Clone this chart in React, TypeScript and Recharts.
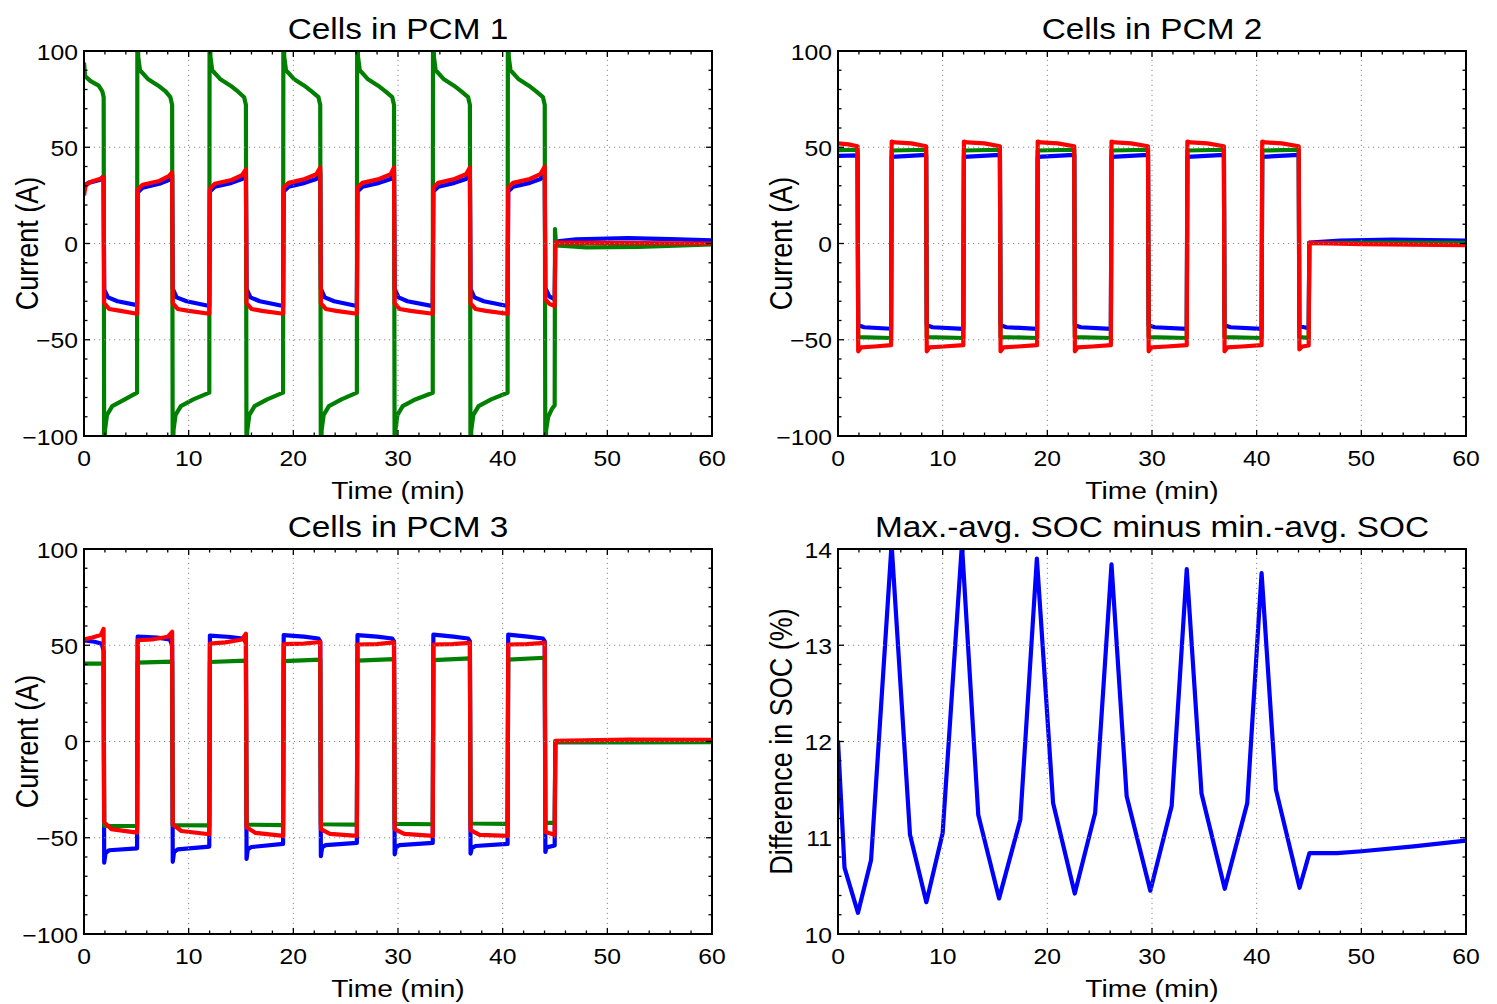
import React from 'react';
import { LineChart, Line, XAxis, YAxis } from 'recharts';

type Pt = [number, number];

// time axis (min) and tick lists
const X_TICKS = [0, 2, 4, 6, 8, 10, 12, 14, 16, 18, 20, 22, 24, 26, 28, 30, 32, 34, 36, 38, 40, 42, 44, 46, 48, 50, 52, 54, 56, 58, 60];
const CURRENT_TICKS = [-100, -90, -80, -70, -60, -50, -40, -30, -20, -10, 0, 10, 20, 30, 40, 50, 60, 70, 80, 90, 100];
const SOC_TICKS = [10, 10.2, 10.4, 10.6, 10.8, 11, 11.2, 11.4, 11.6, 11.8, 12, 12.2, 12.4, 12.6, 12.8, 13, 13.2, 13.4, 13.6, 13.8, 14];

const TITLES = ['Cells in PCM 1', 'Cells in PCM 2', 'Cells in PCM 3', 'Max.-avg. SOC minus min.-avg. SOC'];
const X_LABEL = 'Time (min)';
const Y_LABELS = ['Current (A)', 'Current (A)', 'Current (A)', 'Difference in SOC (%)'];

// PCM 1 cell currents [time, current]
const pcm1Blue: Pt[] = [
  [0, 30], [0.4, 31.5], [1.5, 33], [1.87, 35],
  [1.93, -24], [2.3, -28], [3.2, -30], [5.07, -32],
  [5.13, 26.5], [5.6, 29], [7.2, 31], [8.1, 33], [8.42, 35.5],
  [8.48, -23.5], [8.85, -28], [9.8, -30], [11.97, -32.5],
  [12.03, 27], [12.5, 29.5], [14.1, 31.5], [15.1, 33.5], [15.47, 36.5],
  [15.53, -23.5], [15.9, -28], [16.8, -30], [19.02, -32.5],
  [19.08, 27], [19.55, 29.5], [21.1, 31.5], [22.2, 33.5], [22.57, 37],
  [22.63, -23.5], [23.0, -28], [23.9, -30], [26.07, -32.5],
  [26.13, 27], [26.6, 29.5], [28.2, 31.5], [29.3, 33.5], [29.62, 37],
  [29.68, -23.5], [30.05, -28], [30.9, -30], [33.32, -32.5],
  [33.38, 27], [33.85, 29.5], [35.4, 31.5], [36.5, 33.5], [36.87, 37],
  [36.93, -23.5], [37.3, -28], [38.2, -30], [40.47, -32.5],
  [40.53, 27], [41.0, 29.5], [42.6, 31.5], [43.6, 33.5], [44.02, 37],
  [44.08, -23], [44.45, -27.5], [44.97, -29],
  [45.03, 1], [47, 2.2], [52, 2.8], [56, 2.3], [60, 1.6],
];
const pcm1Green: Pt[] = [
  [0, 94], [0.1, 87], [0.6, 84.5], [1.4, 82], [1.75, 79], [1.88, 76],
  [1.93, -130], [2.0, -97], [2.2, -89], [2.7, -84.5], [3.9, -81], [5.07, -77.5],
  [5.1, 130], [5.18, 97], [5.35, 90], [6.1, 85.5], [7.1, 82], [7.8, 79], [8.25, 76], [8.42, 72],
  [8.48, -130], [8.55, -97], [8.75, -89], [9.25, -84.5], [10.45, -81], [11.97, -77.5],
  [12.0, 130], [12.08, 97], [12.25, 90], [13.0, 85.5], [14.0, 82], [14.7, 79], [15.3, 76], [15.47, 72],
  [15.53, -130], [15.6, -97], [15.8, -89], [16.3, -84.5], [17.5, -81], [19.02, -77.5],
  [19.05, 130], [19.13, 97], [19.3, 90], [20.05, 85.5], [21.05, 82], [21.75, 79], [22.4, 76], [22.57, 72],
  [22.63, -130], [22.7, -97], [22.9, -89], [23.4, -84.5], [24.6, -81], [26.07, -77.5],
  [26.1, 130], [26.18, 97], [26.35, 90], [27.1, 85.5], [28.1, 82], [28.8, 79], [29.45, 76], [29.62, 72],
  [29.68, -130], [29.75, -97], [29.95, -89], [30.45, -84.5], [31.65, -81], [33.32, -77.5],
  [33.35, 130], [33.43, 97], [33.6, 90], [34.35, 85.5], [35.35, 82], [36.05, 79], [36.7, 76], [36.87, 72],
  [36.93, -130], [37.0, -97], [37.2, -89], [37.7, -84.5], [38.9, -81], [40.47, -77.5],
  [40.5, 130], [40.58, 97], [40.75, 90], [41.5, 85.5], [42.5, 82], [43.2, 79], [43.85, 76], [44.02, 72],
  [44.08, -130], [44.15, -97], [44.35, -90], [44.7, -86], [44.97, -84],
  [45.0, 7.5], [45.1, -1], [48, -2], [53, -1.8], [60, -0.5],
];
const pcm1Red: Pt[] = [
  [0, 25], [0.15, 30], [0.6, 32], [1.5, 33.5], [1.87, 34.5],
  [1.93, -31], [2.4, -34], [3.5, -35], [5.07, -36.5],
  [5.13, 28], [5.6, 30.5], [7.2, 32.5], [8.1, 35], [8.42, 37],
  [8.48, -31], [8.95, -34], [10, -35], [11.97, -36.5],
  [12.03, 28.5], [12.5, 31], [14.1, 33], [15.1, 35.5], [15.47, 38.5],
  [15.53, -31], [16.0, -34], [17, -35], [19.02, -36.5],
  [19.08, 29], [19.55, 31.5], [21.1, 33.5], [22.2, 36], [22.57, 39.5],
  [22.63, -31], [23.1, -34], [24.1, -35], [26.07, -36.5],
  [26.13, 29], [26.6, 31.5], [28.2, 33.5], [29.3, 36], [29.62, 39.5],
  [29.68, -31], [30.15, -34], [31.2, -35], [33.32, -36.5],
  [33.38, 29], [33.85, 31.5], [35.4, 33.5], [36.5, 36], [36.87, 39.5],
  [36.93, -31], [37.4, -34], [38.4, -35], [40.47, -36.5],
  [40.53, 29], [41.0, 31.5], [42.6, 33.5], [43.6, 36], [44.02, 40],
  [44.08, -29], [44.5, -31.5], [44.97, -32.5],
  [45.03, 0.5], [50, 0.3], [60, 0],
];

// PCM 2 cell currents
const pcm2Blue: Pt[] = [
  [0, 45.5], [1.87, 45.8],
  [1.93, -42.5], [2.5, -43.5], [5.07, -44.3],
  [5.13, 45], [8.42, 46],
  [8.48, -42.5], [9.05, -43.5], [11.97, -44.3],
  [12.03, 45], [15.47, 46],
  [15.53, -42.5], [16.1, -43.5], [19.02, -44.3],
  [19.08, 45], [22.57, 46],
  [22.63, -42.5], [23.2, -43.5], [26.07, -44.3],
  [26.13, 45], [29.62, 46],
  [29.68, -42.5], [30.25, -43.5], [33.32, -44.3],
  [33.38, 45], [36.87, 46],
  [36.93, -42.5], [37.5, -43.5], [40.47, -44.3],
  [40.53, 45], [44.02, 46],
  [44.08, -43], [44.97, -44],
  [45.03, 0.5], [48, 1.5], [53, 2], [60, 1.5],
];
const pcm2Green: Pt[] = [
  [0, 48.5], [1.87, 48.7],
  [1.93, -48.6], [5.07, -49.1],
  [5.13, 48.3], [8.42, 48.7],
  [8.48, -48.6], [11.97, -49.1],
  [12.03, 48.3], [15.47, 48.7],
  [15.53, -48.6], [19.02, -49.1],
  [19.08, 48.3], [22.57, 48.7],
  [22.63, -48.6], [26.07, -49.1],
  [26.13, 48.3], [29.62, 48.7],
  [29.68, -48.6], [33.32, -49.1],
  [33.38, 48.3], [36.87, 48.7],
  [36.93, -48.6], [40.47, -49.1],
  [40.53, 48.3], [44.02, 48.7],
  [44.08, -48.6], [44.97, -49],
  [45.03, 0.2], [52, 0.5], [60, 0.3],
];
const pcm2Red: Pt[] = [
  [0, 52], [1.0, 51.5], [1.87, 50.5],
  [1.93, -56], [2.2, -54], [3.5, -53.5], [5.07, -52.8],
  [5.13, 53], [5.45, 52.5], [7.0, 52], [8.42, 50.5],
  [8.48, -56], [8.75, -54], [10.1, -53.5], [11.97, -52.8],
  [12.03, 53], [12.35, 52.5], [14.0, 52], [15.47, 50.5],
  [15.53, -56], [15.8, -54], [17.2, -53.5], [19.02, -52.8],
  [19.08, 53], [19.4, 52.5], [21.0, 52], [22.57, 50.5],
  [22.63, -56], [22.9, -54], [24.3, -53.5], [26.07, -52.8],
  [26.13, 53], [26.45, 52.5], [28.0, 52], [29.62, 50.5],
  [29.68, -56], [29.95, -54], [31.4, -53.5], [33.32, -52.8],
  [33.38, 53], [33.7, 52.5], [35.3, 52], [36.87, 50.5],
  [36.93, -56], [37.2, -54], [38.6, -53.5], [40.47, -52.8],
  [40.53, 53], [40.85, 52.5], [42.4, 52], [44.02, 50.5],
  [44.08, -55], [44.35, -53.5], [44.97, -53],
  [45.03, 0.3], [50, -0.3], [60, -0.8],
];

// PCM 3 cell currents
const pcm3Blue: Pt[] = [
  [0, 52.5], [1.0, 51.8], [1.7, 50.8], [1.87, 47],
  [1.93, -63], [2.05, -58], [2.4, -56.5], [5.07, -55.5],
  [5.13, 54.5], [7.0, 54], [8.2, 53], [8.42, 50],
  [8.48, -62.5], [8.6, -57.5], [8.95, -56], [11.97, -54.6],
  [12.03, 55], [14, 54.3], [15.3, 53.3], [15.47, 51],
  [15.53, -61], [15.65, -56], [16.0, -54.8], [19.02, -53.2],
  [19.08, 55.3], [21, 54.5], [22.4, 53.5], [22.57, 52],
  [22.63, -59.6], [22.75, -55], [23.1, -53.8], [26.07, -52.7],
  [26.13, 55.3], [28, 54.5], [29.45, 53.5], [29.62, 52],
  [29.68, -58.6], [29.8, -55], [30.15, -53.8], [33.32, -52.7],
  [33.38, 55.5], [35.3, 54.5], [36.7, 53.5], [36.87, 52],
  [36.93, -58.2], [37.05, -55.5], [37.4, -54.3], [40.47, -53.2],
  [40.53, 55.5], [42.4, 54.5], [43.85, 53.5], [44.02, 52],
  [44.08, -57.4], [44.2, -55], [44.97, -54],
  [45.03, -0.2], [52, -0.3], [60, -0.2],
];
const pcm3Green: Pt[] = [
  [0, 40.5], [1.87, 40.5],
  [1.93, -43.8], [5.07, -43.9],
  [5.13, 41], [8.42, 41.5],
  [8.48, -43.5], [11.97, -43.6],
  [12.03, 41.3], [15.47, 42],
  [15.53, -43.2], [19.02, -43.4],
  [19.08, 41.8], [22.57, 42.5],
  [22.63, -43], [26.07, -43.2],
  [26.13, 42], [29.62, 42.8],
  [29.68, -42.8], [33.32, -43],
  [33.38, 42.3], [36.87, 43.2],
  [36.93, -42.6], [40.47, -42.8],
  [40.53, 42.5], [44.02, 43.5],
  [44.08, -42.3], [44.97, -42.3],
  [45.03, -0.3], [52, -0.4], [60, -0.3],
];
const pcm3Red: Pt[] = [
  [0, 53], [0.8, 54], [1.6, 55.3], [1.87, 58.5],
  [1.93, -42], [2.6, -45.5], [5.07, -47.3],
  [5.13, 52.6], [6.5, 53], [8.0, 54.4], [8.42, 57],
  [8.48, -43], [9.3, -46.5], [11.97, -48.2],
  [12.03, 50.8], [13.5, 51.5], [15.1, 53], [15.47, 56],
  [15.53, -44.5], [16.4, -47.5], [19.02, -49],
  [19.08, 50.6], [21, 50.8], [22.57, 51.7],
  [22.63, -45.5], [23.5, -48], [26.07, -49],
  [26.13, 50.4], [28, 50.6], [29.62, 51.5],
  [29.68, -45.5], [30.6, -48], [33.32, -49],
  [33.38, 50.4], [35.2, 50.6], [36.87, 51.2],
  [36.93, -46], [37.8, -48.5], [40.47, -49],
  [40.53, 50.4], [42.3, 50.6], [44.02, 51.2],
  [44.08, -47], [44.97, -48.5],
  [45.03, 0.3], [52, 1.0], [60, 0.9],
];

// SOC spread [time, %]
const socSpread: Pt[] = [
  [0, 12.01], [0.62, 10.69], [1.91, 10.22], [3.16, 10.77], [5.12, 14.05],
  [6.88, 11.03], [8.44, 10.33], [10.0, 11.05], [11.84, 14.05], [13.4, 11.24],
  [15.39, 10.37], [17.42, 11.19], [19.0, 13.9], [20.55, 11.36], [22.62, 10.42],
  [24.57, 11.26], [26.13, 13.84], [27.58, 11.43], [29.84, 10.45], [31.88, 11.33],
  [33.32, 13.79], [34.73, 11.46], [36.95, 10.47], [39.1, 11.36], [40.47, 13.75],
  [41.84, 11.5], [44.1, 10.48], [45.04, 10.84], [47.7, 10.84], [50.04, 10.86],
  [55, 10.91], [60, 10.97],
];

const BLUE = '#0000ff';
const GREEN = '#008000';
const RED = '#ff0000';
const FONT = '"Liberation Sans", Arial, Helvetica, sans-serif';
const SX = 1.15;

const PLOT_W = 628;
// outer margins; the 1px axes eat one pixel each
const M = { top: 60, right: 30, bottom: 79, left: 99 };

const toRows = (pts: Pt[]) => pts.map(([t, v]) => ({ t, v }));
const fmt = (v: number) => (v < 0 ? '\u2212' + Math.abs(v) : String(v));

function XTick(props: any) {
  const { x, y, payload, plotH } = props;
  const v = payload.value;
  const major = v % 10 === 0;
  const len = major ? 6 : 3.5;
  return (
    <g>
      {major && (
        <line x1={x} x2={x} y1={y} y2={y - plotH} stroke="#8a8a8a" strokeWidth={1} strokeDasharray="1.2 3.8" />
      )}
      <line x1={x} x2={x} y1={y} y2={y - len} stroke="#000" strokeWidth={1.3} />
      <line x1={x} x2={x} y1={y - plotH} y2={y - plotH + len} stroke="#000" strokeWidth={1.3} />
      {major && (
        <text transform={`translate(${x},${y + 30}) scale(${SX},1)`} textAnchor="middle" fontFamily={FONT} fontSize={21.5} fill="#000">
          {fmt(v)}
        </text>
      )}
    </g>
  );
}

function YTick(props: any) {
  const { x, y, payload, plotW, isMajor } = props;
  const v = payload.value;
  const major = isMajor(v);
  const len = major ? 6 : 3.5;
  return (
    <g>
      {major && (
        <line x1={x} x2={x + plotW} y1={y} y2={y} stroke="#8a8a8a" strokeWidth={1} strokeDasharray="1.2 3.8" />
      )}
      <line x1={x} x2={x + len} y1={y} y2={y} stroke="#000" strokeWidth={1.3} />
      <line x1={x + plotW} x2={x + plotW - len} y1={y} y2={y} stroke="#000" strokeWidth={1.3} />
      {major && (
        <text transform={`translate(${x - 6},${y + 8.5}) scale(${SX},1)`} textAnchor="end" fontFamily={FONT} fontSize={21.5} fill="#000">
          {fmt(v)}
        </text>
      )}
    </g>
  );
}

type Series = { name: string; color: string; data: Pt[] };

function Panel(props: {
  left: number;
  top: number;
  h: number;
  domain: [number, number];
  yTicks: number[];
  isMajor: (v: number) => boolean;
  series: Series[];
}) {
  const { left, top, h, domain, yTicks, isMajor, series } = props;
  return (
    <div style={{ position: 'absolute', left: left - M.left - 1, top: top - M.top }}>
      <LineChart width={PLOT_W + M.left + 1 + M.right} height={h + M.top + M.bottom + 1} margin={M}>
        <XAxis
          type="number"
          dataKey="t"
          domain={[0, 60]}
          ticks={X_TICKS}
          interval={0}
          height={1}
          axisLine={false}
          tickLine={false}
          tickSize={0}
          tickMargin={0}
          allowDataOverflow
          tick={(p: any) => <XTick {...p} plotH={h} />}
        />
        <YAxis
          type="number"
          domain={domain}
          ticks={yTicks}
          interval={0}
          width={1}
          axisLine={false}
          tickLine={false}
          tickSize={0}
          tickMargin={0}
          allowDataOverflow
          tick={(p: any) => <YTick {...p} plotW={PLOT_W} isMajor={isMajor} />}
        />
        {series.map((s) => (
          <Line
            key={s.name}
            data={toRows(s.data)}
            dataKey="v"
            type="linear"
            stroke={s.color}
            strokeWidth={4.2}
            strokeLinejoin="round"
            dot={false}
            activeDot={false}
            isAnimationActive={false}
          />
        ))}
      </LineChart>
    </div>
  );
}

const PANELS = [
  { left: 84, top: 51, h: 385 },
  { left: 838, top: 51, h: 385 },
  { left: 84, top: 549, h: 385 },
  { left: 838, top: 549, h: 385 },
];

export default function App() {
  const majorCurrent = (v: number) => v % 50 === 0;
  const majorSoc = (v: number) => Math.abs(v - Math.round(v)) < 1e-6;
  return (
    <div style={{ position: 'absolute', left: 0, top: 0, width: 1497, height: 1004, background: '#fff', overflow: 'hidden' }}>
      <Panel
        {...PANELS[0]}
        domain={[-100, 100]}
        yTicks={CURRENT_TICKS}
        isMajor={majorCurrent}
        series={[
          { name: 'blue', color: BLUE, data: pcm1Blue },
          { name: 'green', color: GREEN, data: pcm1Green },
          { name: 'red', color: RED, data: pcm1Red },
        ]}
      />
      <Panel
        {...PANELS[1]}
        domain={[-100, 100]}
        yTicks={CURRENT_TICKS}
        isMajor={majorCurrent}
        series={[
          { name: 'blue', color: BLUE, data: pcm2Blue },
          { name: 'green', color: GREEN, data: pcm2Green },
          { name: 'red', color: RED, data: pcm2Red },
        ]}
      />
      <Panel
        {...PANELS[2]}
        domain={[-100, 100]}
        yTicks={CURRENT_TICKS}
        isMajor={majorCurrent}
        series={[
          { name: 'blue', color: BLUE, data: pcm3Blue },
          { name: 'green', color: GREEN, data: pcm3Green },
          { name: 'red', color: RED, data: pcm3Red },
        ]}
      />
      <Panel
        {...PANELS[3]}
        domain={[10, 14]}
        yTicks={SOC_TICKS}
        isMajor={majorSoc}
        series={[{ name: 'soc', color: BLUE, data: socSpread }]}
      />
      <svg width={1497} height={1004} style={{ position: 'absolute', left: 0, top: 0, pointerEvents: 'none' }}>
        {PANELS.map((p, i) => {
          const cx = p.left + PLOT_W / 2;
          const cy = p.top + p.h / 2;
          return (
            <g key={i} fontFamily={FONT} fill="#000">
              <rect x={p.left} y={p.top} width={PLOT_W} height={p.h} fill="none" stroke="#000" strokeWidth={2} />
              <text transform={`translate(${cx},${p.top - 12}) scale(${SX},1)`} textAnchor="middle" fontSize={29}>
                {TITLES[i]}
              </text>
              <text transform={`translate(${cx},${p.top + p.h + 63}) scale(${SX},1)`} textAnchor="middle" fontSize={24.5}>
                {X_LABEL}
              </text>
              <text transform={`translate(${p.left - 46},${cy}) scale(${SX},1) rotate(-90)`} textAnchor="middle" fontSize={27}>
                {Y_LABELS[i]}
              </text>
            </g>
          );
        })}
      </svg>
    </div>
  );
}
